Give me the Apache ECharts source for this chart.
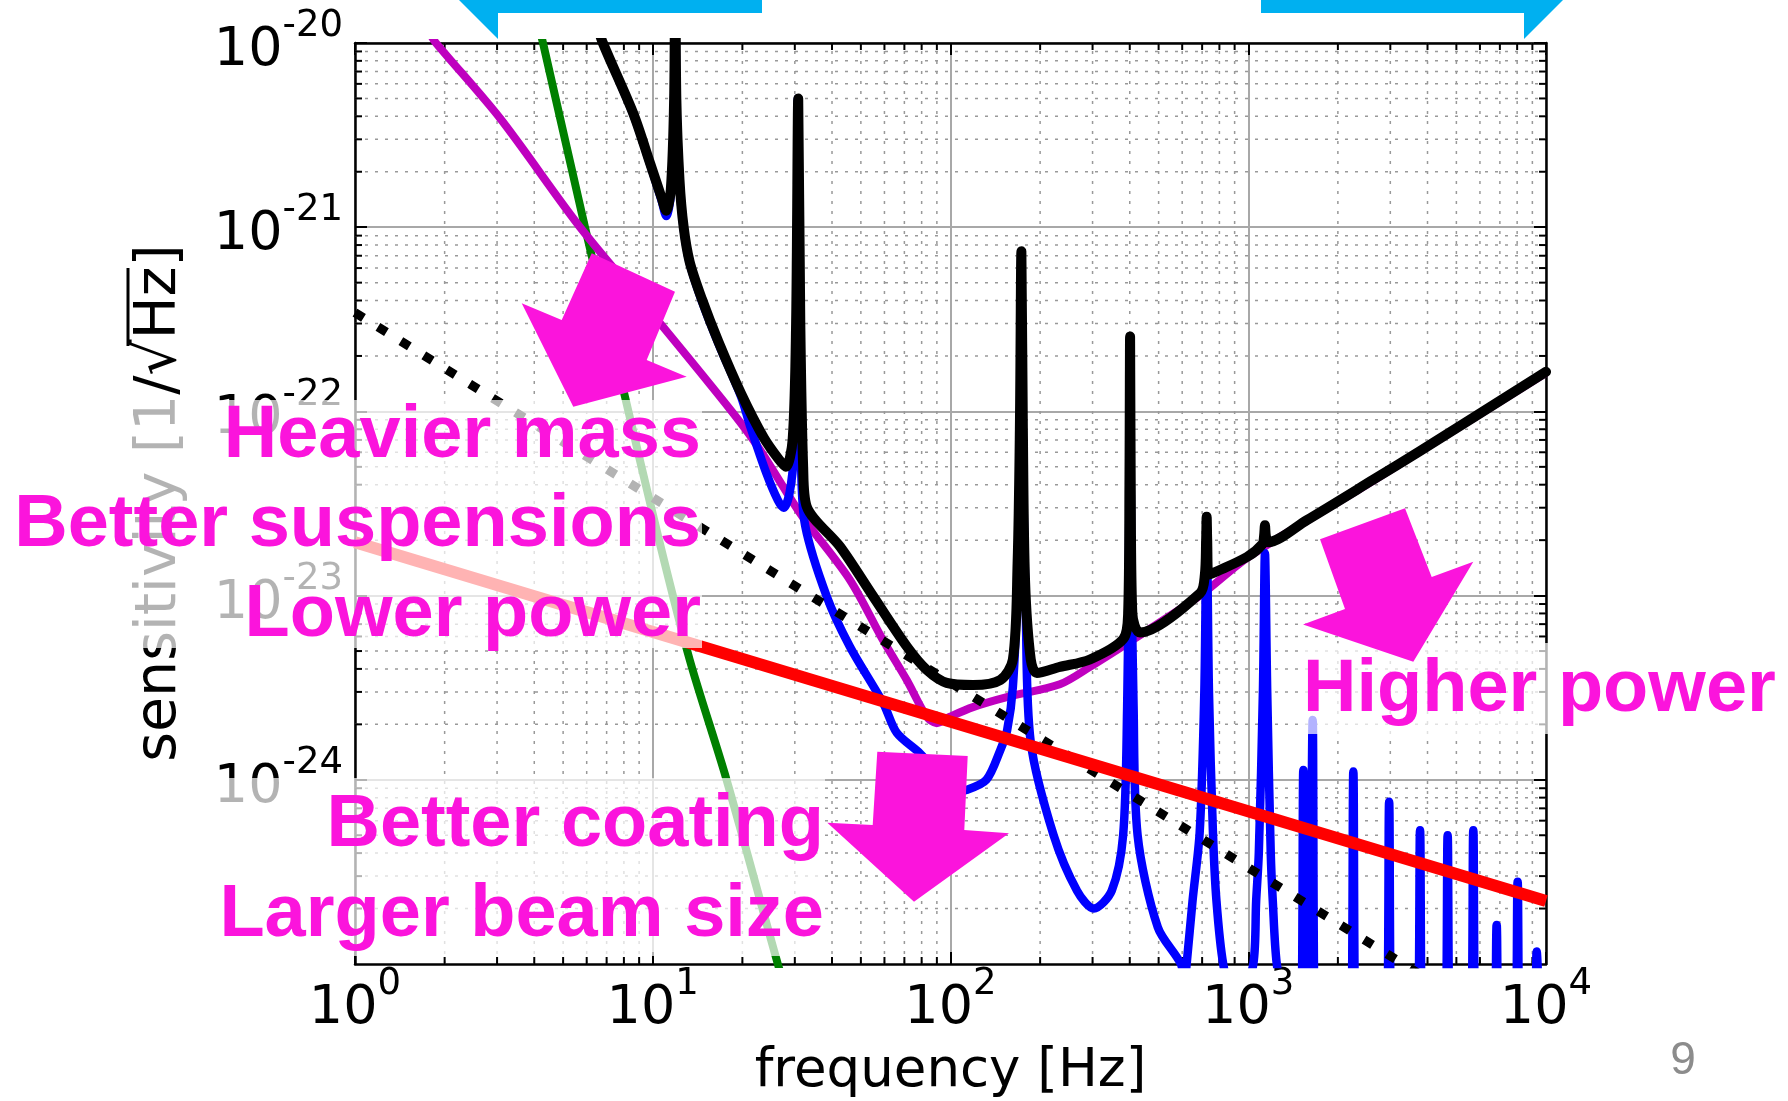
<!DOCTYPE html>
<html><head><meta charset="utf-8">
<script src="https://cdn.jsdelivr.net/npm/echarts@6/dist/echarts.min.js"></script>
<style>html,body{margin:0;padding:0;background:#fff}#c{width:1788px;height:1101px}</style>
</head><body><div id="c"></div><script>
// ---- axis structure ----
const xRange = [1, 10000];
const yRange = [1e-25, 1e-20];
const minorMult = [2, 3, 4, 5, 6, 7, 8, 9];
const xDecades = [1, 10, 100, 1000];
const yDecades = [1e-25, 1e-24, 1e-23, 1e-22, 1e-21];

// ---- series values [frequency Hz, sensitivity 1/sqrt(Hz)] ----
const seismic = [[4.1,1.3e-20],[4.28,1e-20],[5.92,1e-21],[8.07,1.2e-22],[10.3,2.27e-23],[13.3,4.5e-24],[17.7,1e-24],[26.3,1e-25],[27.5,8e-26]];
const quantum = [[1.8,1.1e-20],[1.87,1e-20],[3.07,3.9e-21],[5.7,1e-21],[10.6,3.0e-22],[18.6,9.8e-23],[22.9,6.2e-23],[31.5,2.75e-23],[45.9,1.22e-23],[59.3,5.74e-24],[71.3,3.48e-24],[83.2,2.2e-24],[89.9,2.03e-24],[99.6,2.2e-24],[119,2.48e-24],[154.6,2.81e-24],[233,3.3e-24],[294,4.1e-24],[433,6.1e-24],[689,1.0e-23],[990,1.6e-23],[1574,2.55e-23],[2624,4.2e-23],[10000,1.62e-22]];
const suspThermal = [[6.5,1.25e-20],[6.8,1e-20],[8.6,4.1e-21],[9.8,2.2e-21],[10.7,1.4e-21],[11.1,1.15e-21],[11.5,1.5e-21],[11.8,5e-21],[11.9,3e-20],[12.0,5e-21],[12.3,1.75e-21],[12.7,9.8e-22],[13.3,6.4e-22],[14.6,4.0e-22],[16.6,2.35e-22],[19.8,1.2e-22],[21.2,8.4e-23],[24.1,4.6e-23],[26.3,3.3e-23],[27.5,3.0e-23],[28.8,3.6e-23],[29.8,6e-23],[30.4,2.5e-22],[30.7,5.0e-21],[31.0,2.5e-22],[31.5,5e-23],[32.5,2.4e-23],[38.4,9.9e-24],[45.9,5.3e-24],[59.5,2.6e-24],[66,1.8e-24],[79,1.39e-24],[95,1.0e-24],[105,8.7e-25],[113,8.8e-25],[132,1.0e-24],[147,1.45e-24],[155,1.86e-24],[162,3.2e-24],[168,1.2e-23],[171,6e-23],[173,7.4e-22],[175,6e-23],[179,8e-24],[186,1.6e-24],[222,5.0e-25],[266,2.5e-25],[303,2.0e-25],[348,2.5e-25],[380,5e-25],[392,2.5e-24],[398,2e-23],[401,2.55e-22],[404,2e-23],[412,2.5e-24],[425,5e-25],[497,1.58e-25],[594,1e-25],[610,8e-26],[621,1e-25],[650,2.2e-25],[687,5.2e-25],[712,3e-24],[725,2.4e-23],[738,3e-24],[761,5.2e-25],[782,2.2e-25],[824,1e-25],[900,6e-26],[1040,1e-25],[1063,2.2e-25],[1085,4e-25],[1120,3e-24],[1138,1.7e-23],[1158,3e-24],[1190,4e-25],[1209,2.2e-25],[1247,1e-25],[1350,5e-26],
 [1488,3e-26],[1531,1.13e-24],[1574,3e-26],[1600,3e-26],[1646,2.11e-24],[1692,3e-26],[2191,3e-26],[2254,1.11e-24],[2317,3e-26],[2890,3e-26],[2973,7.6e-25],[3056,3e-26],[3670,3e-26],[3776,5.33e-25],[3882,3e-26],[4543,3e-26],[4674,5.0e-25],[4805,3e-26],[5540,3e-26],[5700,5.33e-25],[5860,3e-26],[6637,3e-26],[6828,1.63e-25],[7019,3e-26],[7805,3e-26],[8030,2.8e-25],[8255,3e-26],[9044,3e-26],[9304,1.17e-25],[9564,3e-26]];
const coating = [[1,1.95e-23],[10000,2.2e-25]];
const dottedRef = [[1,3.44e-22],[10000,3.3e-26]];
const total = [[6.5,1.25e-20],[6.8,1e-20],[8.6,4.15e-21],[9.8,2.22e-21],[10.7,1.45e-21],[11.1,1.23e-21],[11.5,1.6e-21],[11.8,5e-21],[11.9,3e-20],[12.0,5e-21],[12.3,1.8e-21],[12.7,1.0e-21],[13.3,6.5e-22],[14.6,4.1e-22],[16.6,2.4e-22],[19.8,1.25e-22],[23.6,7.2e-23],[26.5,5.5e-23],[28.0,5.0e-23],[29.5,7e-23],[30.3,3e-22],[30.8,5.0e-21],[31.3,3e-22],[32.0,5e-23],[32.9,3.04e-23],[42.6,1.84e-23],[55.0,9.9e-24],[71.3,5.3e-24],[83.2,3.95e-24],[97.1,3.36e-24],[119,3.27e-24],[147,3.48e-24],[162,4.5e-24],[168,1.5e-23],[171,8e-23],[173,7.4e-22],[175,8e-23],[178,1.2e-23],[186,4.5e-24],[195,3.8e-24],[233,4.1e-24],[294,4.5e-24],[380,5.8e-24],[395,8e-24],[399,4e-23],[401,2.55e-22],[403,4e-23],[408,8e-24],[433,6.3e-24],[689,1.03e-23],[715,1.3e-23],[722,2e-23],[725,2.68e-23],[728,2e-23],[735,1.3e-23],[990,1.62e-23],[1115,1.9e-23],[1130,2.1e-23],[1138,2.41e-23],[1146,2.1e-23],[1165,1.95e-23],[1574,2.57e-23],[2624,4.25e-23],[3776,6.1e-23],[10000,1.64e-22]];

// ---- annotations ----
const notes = [
  {text:'Heavier mass', x:701, y:463, align:'right'},
  {text:'Better suspensions', x:701, y:552, align:'right'},
  {text:'Lower power', x:701, y:642, align:'right'},
  {text:'Better coating', x:824, y:852, align:'right'},
  {text:'Larger beam size', x:824, y:942, align:'right'},
  {text:'Higher power', x:1303, y:717, align:'left'}
];
const veils = [[0,400,702,248],[210,778,615,178],[1298,643,484,91]];
const magentaArrows = [
  [[591.7,253.3],[675,291.7],[646.7,360],[686.7,376.7],[573.3,406.7],[521.7,303.3],[561.7,320]],
  [[1320,539.3],[1405,508.3],[1431.7,577],[1473.3,561.7],[1413.3,661.7],[1303,624.5],[1345,609]],
  [[877.3,751.7],[967.7,756],[964.3,830],[1009,833.3],[914,901.7],[827.3,822.7],[872.7,825]]
];
const cyanArrows = [
  [[459,0],[762,0],[762,13],[498,13],[498,39]],
  [[1261,0],[1563,0],[1524,39],[1524,13],[1261,13]]
];

const minorX = xDecades.flatMap(d => minorMult.map(m => m * d));
const minorY = yDecades.flatMap(d => minorMult.map(m => m * d));

const MAG = '#fb14dc';
const FONT = 'DejaVu Sans';
const expLabel = v => '{b|10}{s|' + Math.round(Math.log10(v)) + '}';
const richLbl = {
  b: {fontSize: 54, fontFamily: FONT, color: '#000', lineHeight: 70, verticalAlign: 'bottom'},
  s: {fontSize: 37, fontFamily: FONT, color: '#000', lineHeight: 70, verticalAlign: 'top'}
};
const tickStyle = {inside: true, length: 12, lineStyle: {color: '#000', width: 2}};
const axLine = {show: true, onZero: false, lineStyle: {color: '#000', width: 2.5}};

function lineSeries(data, color, width, extra, smooth) {
  return {
    type: 'line', data: data, showSymbol: false, symbol: 'none', silent: true, clip: true,
    smooth: smooth || false,
    lineStyle: Object.assign({color: color, width: width, cap: 'butt', join: 'round'}, extra || {})
  };
}

const chart = echarts.init(document.getElementById('c'), null, {renderer: 'canvas', width: 1788, height: 1101});
const option = {
  animation: false,
  backgroundColor: '#fff',
  grid: {left: 355, top: 43, width: 1191, height: 921, outerBoundsMode: 'none'},
  xAxis: [
    {type: 'log', logBase: 10, min: xRange[0], max: xRange[1], position: 'bottom',
     axisLine: axLine, axisTick: tickStyle,
     axisLabel: {formatter: expLabel, rich: richLbl, margin: 2, showMinLabel: true, showMaxLabel: true},
     splitLine: {show: true, lineStyle: {color: '#a8a8a8', width: 2}},
     name: 'frequency [Hz]', nameLocation: 'middle', nameGap: 82,
     nameTextStyle: {fontFamily: FONT, fontSize: 53, color: '#000'}},
    {type: 'log', logBase: 10, min: xRange[0], max: xRange[1], position: 'top',
     axisLine: axLine, axisTick: tickStyle, axisLabel: {show: false}, splitLine: {show: false}}
  ],
  yAxis: [
    {type: 'log', logBase: 10, min: yRange[0], max: yRange[1], position: 'left',
     axisLine: axLine, axisTick: tickStyle,
     axisLabel: {formatter: expLabel, rich: richLbl, margin: 12, showMinLabel: true, showMaxLabel: true},
     splitLine: {show: true, lineStyle: {color: '#a8a8a8', width: 2}}},
    {type: 'log', logBase: 10, min: yRange[0], max: yRange[1], position: 'right',
     axisLine: axLine, axisTick: tickStyle, axisLabel: {show: false}, splitLine: {show: false}}
  ],
  series: [
    {type: 'custom', silent: true, xAxisIndex: 0, yAxisIndex: 0,
     data: minorX.map(v => [v, yRange[0]]),
     renderItem: (p, api) => {
       const v = api.value(0);
       const a = api.coord([v, yRange[0]]), b = api.coord([v, yRange[1]]);
       return {type: 'group', children: [
         {type: 'line', shape: {x1: a[0], y1: a[1], x2: b[0], y2: b[1]}, style: {stroke: '#999', lineWidth: 1.5, lineDash: [3, 7]}},
         {type: 'line', shape: {x1: a[0], y1: a[1], x2: a[0], y2: a[1] - 7}, style: {stroke: '#000', lineWidth: 2}},
         {type: 'line', shape: {x1: b[0], y1: b[1], x2: b[0], y2: b[1] + 7}, style: {stroke: '#000', lineWidth: 2}}
       ]};
     }},
    {type: 'custom', silent: true, xAxisIndex: 0, yAxisIndex: 0,
     data: minorY.map(v => [xRange[0], v]),
     renderItem: (p, api) => {
       const v = api.value(1);
       const a = api.coord([xRange[0], v]), b = api.coord([xRange[1], v]);
       return {type: 'group', children: [
         {type: 'line', shape: {x1: a[0], y1: a[1], x2: b[0], y2: b[1]}, style: {stroke: '#999', lineWidth: 1.5, lineDash: [3, 7]}},
         {type: 'line', shape: {x1: a[0], y1: a[1], x2: a[0] + 7, y2: a[1]}, style: {stroke: '#000', lineWidth: 2}},
         {type: 'line', shape: {x1: b[0], y1: b[1], x2: b[0] - 7, y2: b[1]}, style: {stroke: '#000', lineWidth: 2}}
       ]};
     }},
    lineSeries(seismic, '#008000', 8, null, 0.3),
    lineSeries(quantum, '#bf00bf', 8, null, 0.3),
    lineSeries(suspThermal, '#0000ff', 8.5, {cap: 'round'}, 0.3),
    lineSeries(dottedRef, '#000', 9, {type: [10, 17]}),
    lineSeries(coating, '#ff0000', 12),
    lineSeries(total, '#000', 10, {cap: 'round'}, 0.3)
  ],
  graphic: [].concat(
    [{type: 'text', z: 50, silent: true, x: 160, y: 503, rotation: Math.PI / 2,
      style: {text: 'sensitivity [1/\u221aHz]', font: '57px "DejaVu Sans"', fill: '#000',
              align: 'center', textAlign: 'center', verticalAlign: 'middle', textVerticalAlign: 'middle'}},
     {type: 'line', z: 50, silent: true, shape: {x1: 128, y1: 268, x2: 128, y2: 346},
      style: {stroke: '#000', lineWidth: 3}}],
    veils.map(r => ({type: 'rect', z: 100, silent: true, shape: {x: r[0], y: r[1], width: r[2], height: r[3]}, style: {fill: 'rgba(255,255,255,0.7)'}})),
    magentaArrows.map(pts => ({type: 'polygon', z: 110, silent: true, shape: {points: pts}, style: {fill: MAG}})),
    cyanArrows.map(pts => ({type: 'polygon', z: 110, silent: true, shape: {points: pts}, style: {fill: '#00b0f0'}})),
    notes.map(n => ({type: 'text', z: 120, silent: true, x: n.x, y: n.y - 26,
      style: {text: n.text, font: 'bold 74px "Liberation Sans", Arial, sans-serif', fill: MAG,
              align: n.align, textAlign: n.align, verticalAlign: 'middle', textVerticalAlign: 'middle'}})),
    [{type: 'text', z: 120, silent: true, x: 1683, y: 1061,
      style: {text: '9', font: '46px "Liberation Sans", Arial, sans-serif', fill: '#8c8c8c',
              align: 'center', textAlign: 'center', verticalAlign: 'middle', textVerticalAlign: 'middle'}}]
  )
};
chart.setOption(option);
</script></body></html>
